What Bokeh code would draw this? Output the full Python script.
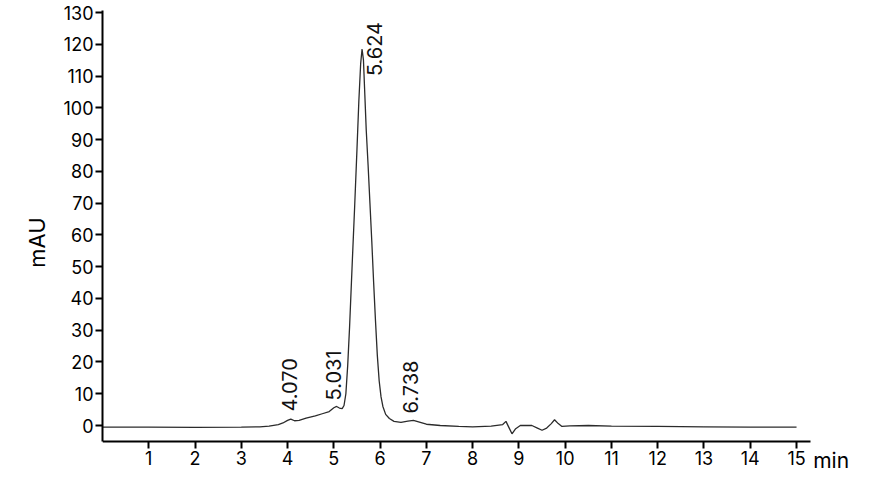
from bokeh.plotting import figure
from bokeh.models import Range1d, FixedTicker, Label, ColumnDataSource
from bokeh.core.properties import value
from bokeh.embed import file_html
from bokeh.resources import INLINE

# Chromatogram trace (time in min, signal in mAU)
time_min = [0.0, 1.0, 2.0, 3.0, 3.4, 3.6, 3.8, 3.9, 4.0, 4.07, 4.15, 4.25, 4.4, 4.6,
            4.75, 4.9, 5.0, 5.06, 5.12, 5.18, 5.22, 5.26, 5.30, 5.34, 5.40, 5.45,
            5.50, 5.54, 5.58, 5.61, 5.64, 5.67, 5.70, 5.74, 5.78, 5.82, 5.86, 5.90,
            5.94, 5.98, 6.02, 6.06, 6.12, 6.20, 6.30, 6.45, 6.60, 6.72, 6.85, 7.0, 7.3,
            7.7, 8.0, 8.4, 8.65, 8.72, 8.78, 8.85, 8.93, 9.03, 9.28, 9.40, 9.50,
            9.60, 9.70, 9.77, 9.85, 9.93, 10.1, 10.5, 11.0, 12.0, 13.0, 14.0, 15.0]
signal_mau = [-0.5, -0.5, -0.6, -0.5, -0.4, -0.2, 0.3, 0.8, 1.6, 2.0, 1.5, 1.6, 2.3, 3.0,
              3.7, 4.4, 5.6, 6.0, 5.5, 5.3, 6.3, 10.0, 19.0, 31.0, 52.0, 69.0,
              87.0, 102.0, 114.0, 118.5, 115.0, 104.0, 93.0, 82.0, 70.0, 58.0, 45.0, 33.0,
              22.0, 14.0, 9.0, 6.0, 3.5, 2.2, 1.3, 1.0, 1.4, 1.6, 1.1, 0.4, 0.0,
              -0.3, -0.4, -0.2, 0.3, 1.3, -0.5, -2.6, -1.0, 0.0, 0.0, -0.8, -1.5,
              -0.8, 0.6, 1.8, 0.6, -0.3, -0.1, 0.0, -0.2, -0.3, -0.4, -0.5, -0.5]

# Peak annotations
peak_labels = ["4.070", "5.031", "5.624", "6.738"]
peak_label_x = [4.04, 4.99, 5.88, 6.66]
peak_label_y = [4.4, 7.9, 110.0, 3.8]

x_ticks = list(range(1, 16))
y_ticks = list(range(0, 131, 10))
x_axis_end = 15.3
y_axis_bottom = -5.04
y_axis_top = 130.63

FONT = "Inter"

p = figure(width=858, height=474, output_backend="svg", toolbar_location=None,
           x_range=Range1d(0, 16.296), y_range=Range1d(-15.42, y_axis_top),
           min_border_left=102, min_border_right=2, min_border_top=10, min_border_bottom=0)
p.outline_line_color = None
p.grid.visible = False
p.background_fill_color = "white"
p.border_fill_color = "white"

p.line(time_min, signal_mau, line_color="#2b2b2b", line_width=1.3)

src = ColumnDataSource(dict(x=peak_label_x, y=peak_label_y, t=peak_labels))
p.text(x="x", y="y", text="t", source=src, angle=1.5708, text_align="left",
       text_baseline="middle", text_font=value(FONT), text_font_size="20px",
       text_color="#111111")

for ax in (p.xaxis[0], p.yaxis[0]):
    ax.axis_line_width = 2
    ax.axis_line_color = "black"
    ax.major_tick_line_width = 2
    ax.major_tick_line_color = "black"
    ax.major_tick_out = 7
    ax.major_tick_in = 0
    ax.minor_tick_out = 0
    ax.minor_tick_in = 0
    ax.major_label_text_font = FONT
    ax.major_label_text_font_size = "18px"
    ax.major_label_text_color = "black"
    ax.major_label_standoff = 2

p.xaxis.ticker = FixedTicker(ticks=x_ticks)
p.xaxis.fixed_location = y_axis_bottom
p.xaxis.bounds = (0, x_axis_end)
p.yaxis.ticker = FixedTicker(ticks=y_ticks)
p.yaxis.bounds = (y_axis_bottom, y_axis_top)
p.yaxis.axis_label = "mAU"
p.yaxis.axis_label_text_font = FONT
p.yaxis.axis_label_text_font_style = "normal"
p.yaxis.axis_label_text_font_size = "22px"
p.yaxis.axis_label_text_color = "black"
p.yaxis.axis_label_standoff = 10

p.add_layout(Label(x=15.36, y=-11.0, text="min", text_font=FONT, text_font_size="21px",
                   text_baseline="alphabetic", text_align="left", text_color="black"))

open("out.html", "w").write(file_html(p, INLINE))
